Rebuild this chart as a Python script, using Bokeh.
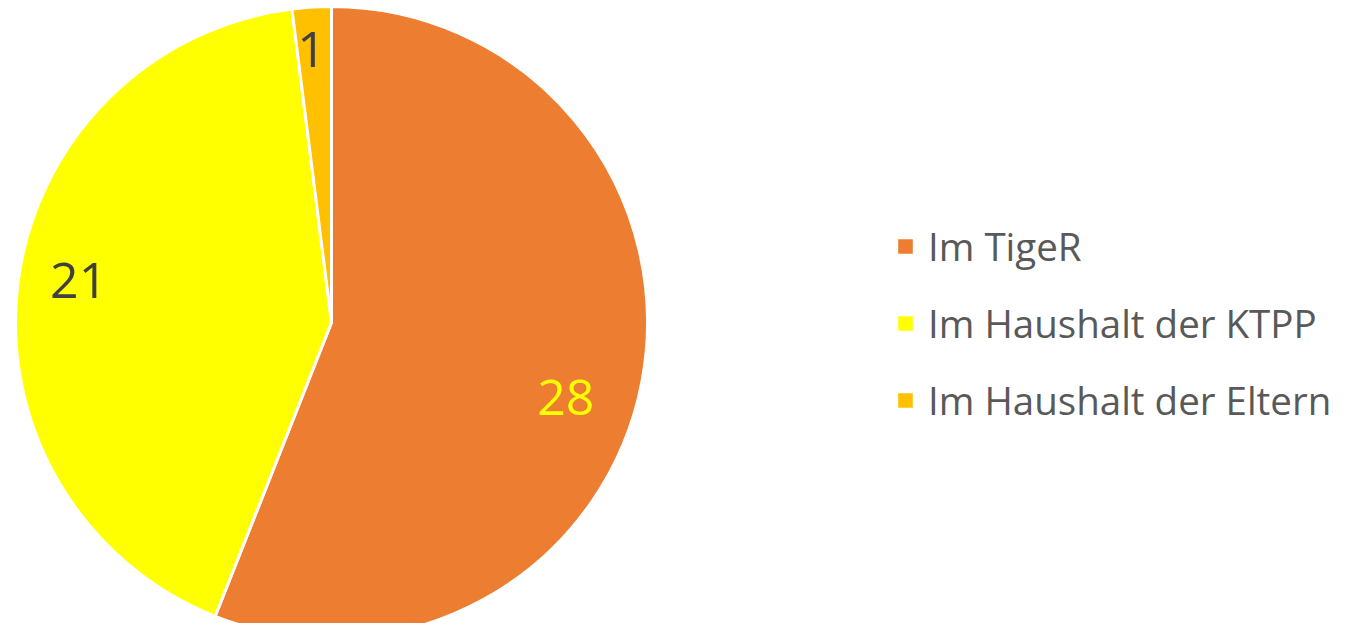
import math
from bokeh.plotting import figure
from bokeh.models import Range1d, Legend, LegendItem, ColumnDataSource
from bokeh.core.properties import value
from bokeh.embed import file_html
from bokeh.resources import INLINE

categories = ["Im TigeR", "Im Haushalt der KTPP", "Im Haushalt der Eltern"]
counts = [28, 21, 1]
colors = ["#ED7D31", "#FFFF00", "#FFC000"]
label_colors = ["#FFFF00", "#404040", "#404040"]

# layout constants (pixels)
W, H = 1337, 623
cx, cy, R = 331, 301, 316
label_nudge = [(-14, -28), (-2, 10), (-4, 21)]

total = sum(counts)
starts, ends, lx, ly = [], [], [], []
cum = 0.0
for i, v in enumerate(counts):
    a0 = math.pi / 2 - 2 * math.pi * (cum + v) / total
    a1 = math.pi / 2 - 2 * math.pi * cum / total
    starts.append(a0)
    ends.append(a1)
    mid = (a0 + a1) / 2
    lx.append(cx + 0.8 * R * math.cos(mid) + label_nudge[i][0])
    ly.append(cy + 0.8 * R * math.sin(mid) + label_nudge[i][1])
    cum += v

src = ColumnDataSource(dict(cat=categories, val=counts, start=starts, end=ends,
                            color=colors, lx=lx, ly=ly,
                            txt=[str(v) for v in counts], tcol=label_colors))

p = figure(width=W, height=H, x_range=Range1d(0, W), y_range=Range1d(0, H),
           output_backend="svg", toolbar_location=None, min_border=0)
p.axis.visible = False
p.grid.visible = False
p.outline_line_color = None
p.background_fill_color = "white"

r = p.wedge(x=cx, y=cy, radius=R, start_angle="start", end_angle="end",
            fill_color="color", line_color="white", line_width=3, source=src)

p.text(x="lx", y="ly", text="txt", text_color="tcol", text_align="center",
       text_baseline="middle", text_font=value("Open Sans"), text_font_size="50px",
       source=src)

items = [LegendItem(label=c, renderers=[r], index=i) for i, c in enumerate(categories)]
legend = Legend(items=items, location=(894, 197), orientation="vertical",
                glyph_width=22, glyph_height=22, label_height=52, spacing=25,
                label_standoff=12, padding=0, margin=0,
                label_text_font="Open Sans", label_text_font_size="38.5px",
                label_text_color="#595959", border_line_color=None,
                background_fill_alpha=0)
p.add_layout(legend, "center")

open("out.html", "w").write(file_html(p, INLINE))
